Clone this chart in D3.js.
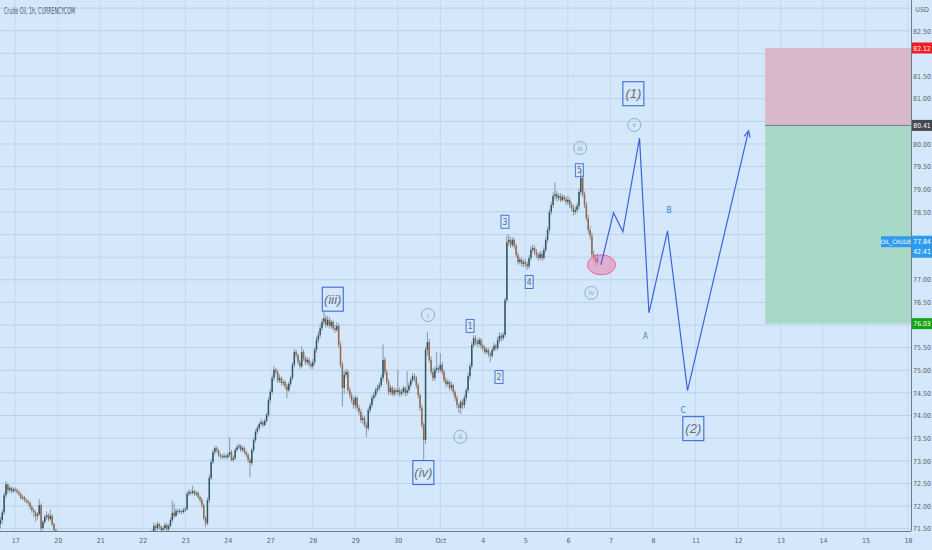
<!DOCTYPE html>
<html><head><meta charset="utf-8">
<script src="https://cdn.jsdelivr.net/npm/d3@7"></script>
<style>html,body{margin:0;padding:0;background:#d5e8fb;}svg{display:block}</style>
</head><body><svg id="c" width="932" height="550"></svg>
<script>
// ---------- DATA ----------
const title = "Crude Oil, 1h, CURRENCYCOM";
const dayLabels = ["17","20","21","22","23","24","27","28","29","30","Oct","4","5","6","7","8","11","12","13","14","15","18"];
const priceTicks = [71.5,72,72.5,73,73.5,74,74.5,75,75.5,76,76.5,77,77.5,78,78.5,79,79.5,80,80.5,81,81.5,82,82.5];
const gridPrices = [71.5,72,72.5,73,73.5,74,74.5,75,75.5,76,76.5,77,77.5,78,78.5,79,79.5,80,80.5,81,81.5,82,82.5,83];
const barsPerDay = 23;
const firstBarOffset = -8;   // first bar = 8 hourly bars before the "17" day line
const firstOpen = 71.60;
const closes = [
71.69,71.86,72.24,72.48,72.35,72.40,72.33,72.37,
72.35,72.31,72.27,72.18,72.20,72.13,72.11,72.07,71.98,71.91,71.87,71.78,71.82,72.02,71.51,71.65,71.76,71.80,71.71,71.78,71.60,71.47,71.34,
71.25,71.15,71.10,71.00,71.05,70.90,70.80,70.75,70.70,70.60,70.65,70.50,70.40,70.55,70.45,70.30,70.35,70.50,70.60,70.55,70.65,70.70,70.75,
70.80,70.90,70.85,71.00,71.10,71.05,71.15,71.20,71.10,71.00,70.90,71.05,71.15,71.25,71.30,71.20,71.10,71.00,70.95,71.05,71.15,71.20,71.25,
71.25,71.29,71.32,71.36,71.34,71.43,71.56,71.51,71.60,71.54,71.47,71.51,71.58,71.49,71.56,71.69,71.85,71.78,71.89,71.87,71.89,71.87,71.91,
71.93,72.27,72.31,72.29,72.33,72.27,72.29,72.20,72.13,72.02,71.73,71.62,72.13,72.62,72.97,73.19,73.28,73.24,73.13,73.11,73.08,73.11,73.08,
73.13,73.19,73.02,73.06,73.24,73.30,73.33,73.24,73.28,73.19,73.13,73.02,72.95,73.24,73.46,73.64,73.72,73.81,73.85,73.79,73.88,74.01,74.34,
74.52,74.83,75.01,74.96,74.78,74.83,74.72,74.74,74.65,74.56,74.70,74.83,75.12,75.40,75.34,75.18,75.09,75.40,75.27,75.18,75.23,75.14,75.09,
75.18,75.45,75.67,75.78,75.93,76.07,76.15,76.00,76.11,75.98,76.07,75.93,75.89,75.98,75.56,75.12,74.61,74.90,74.96,74.56,74.45,74.34,74.23,
74.39,74.17,74.08,73.90,73.94,73.79,73.72,74.12,74.23,74.39,74.45,74.56,74.61,74.67,74.83,75.23,74.96,74.74,74.52,74.61,74.48,74.56,74.52,
74.56,74.48,74.52,74.61,74.50,74.56,74.67,74.78,74.87,74.83,74.67,74.45,74.17,73.79,73.46,75.45,75.62,75.23,74.96,74.83,75.01,75.05,75.01,
75.12,74.96,74.78,74.70,74.74,74.61,74.67,74.52,74.39,74.23,74.17,74.30,74.23,74.39,74.56,74.87,75.09,75.56,75.71,75.62,75.58,75.67,75.54,
75.49,75.40,75.45,75.36,75.32,75.45,75.54,75.49,75.67,75.76,75.71,75.78,76.55,77.83,77.88,77.77,77.88,77.75,77.55,77.39,77.44,77.35,77.39,
77.35,77.30,77.48,77.66,77.70,77.61,77.55,77.48,77.57,77.48,77.66,77.88,78.10,78.50,78.65,78.85,78.89,78.81,78.85,78.76,78.83,78.78,78.72,
78.76,78.65,78.59,78.50,78.54,78.63,78.94,79.25,78.89,78.65,78.36,78.10,77.97,77.55,77.48,77.39,77.48];
const highs = [
71.76,71.92,72.30,72.55,72.50,72.45,72.43,72.41,
72.41,72.39,72.35,72.30,72.24,72.23,72.17,72.14,72.10,72.02,71.95,71.90,71.86,72.15,72.06,71.69,71.80,71.88,71.84,71.92,71.82,71.64,71.50,
71.38,71.28,71.20,71.15,71.12,71.08,70.95,70.85,70.80,70.75,70.72,70.68,70.55,70.60,70.60,70.50,70.42,70.56,70.66,70.65,70.70,70.76,70.80,
70.86,70.96,70.94,71.06,71.16,71.15,71.20,71.28,71.24,71.14,71.04,71.10,71.20,71.30,71.36,71.34,71.24,71.14,71.04,71.10,71.20,71.26,71.30,
71.30,71.34,71.37,71.41,71.40,71.48,71.63,71.60,71.66,71.63,71.57,71.56,71.63,71.62,71.61,71.75,72.12,72.06,71.94,71.94,71.94,71.92,71.96,
71.98,72.32,72.37,72.36,72.45,72.36,72.33,72.32,72.24,72.18,72.06,71.78,72.19,72.69,73.04,73.25,73.33,73.32,73.26,73.18,73.15,73.17,73.14,
73.18,73.52,73.24,73.12,73.28,73.35,73.38,73.36,73.33,73.32,73.23,73.17,73.06,73.29,73.51,73.69,73.78,73.86,73.93,73.89,73.93,74.06,74.41,
74.59,74.89,75.09,75.05,75.01,74.90,74.86,74.80,74.78,74.70,74.75,74.88,75.18,75.46,75.45,75.37,75.23,75.53,75.46,75.31,75.29,75.27,75.19,
75.25,75.51,75.74,75.86,76.01,76.14,76.30,76.22,76.19,76.17,76.12,76.10,76.00,76.06,76.03,75.63,75.19,74.99,75.03,75.01,74.63,74.51,74.40,
74.45,74.43,74.24,74.14,74.02,73.99,73.85,74.18,74.29,74.45,74.52,74.62,74.69,74.74,74.90,75.57,75.29,75.02,74.80,74.67,74.66,74.62,74.61,
75.01,74.62,74.58,74.66,74.64,74.98,74.74,74.84,74.94,74.92,74.88,74.72,74.50,74.23,73.85,75.52,75.85,75.69,75.30,75.04,75.08,75.40,75.10,
75.38,75.18,75.02,74.85,74.80,74.78,74.74,74.70,74.56,74.45,74.28,74.35,74.36,74.45,74.62,74.94,75.16,75.63,75.78,75.77,75.69,75.73,75.71,
75.59,75.55,75.51,75.49,75.41,75.51,75.61,75.58,75.74,75.84,75.82,75.84,76.60,77.97,78.00,77.94,77.94,77.92,77.80,77.60,77.50,77.48,77.44,
77.46,77.40,77.54,77.74,77.78,77.76,77.68,77.60,77.64,77.63,77.72,77.94,78.17,78.56,78.72,78.93,79.15,78.96,78.91,78.91,78.89,78.87,78.84,
78.85,78.81,78.72,78.66,78.62,78.70,79.01,79.46,79.31,78.95,78.72,78.44,78.19,78.04,77.64,77.56,77.58];
const lows = [
71.50,71.62,71.80,72.18,72.28,72.31,72.28,72.29,
72.30,72.27,72.22,72.14,72.14,72.09,72.06,72.02,71.92,71.85,71.76,71.66,71.70,71.78,71.44,71.48,71.60,71.70,71.66,71.68,71.55,71.40,71.26,
71.20,71.10,71.04,70.95,70.96,70.85,70.75,70.68,70.64,70.55,70.56,70.45,70.32,70.36,70.38,70.25,70.26,70.32,70.46,70.50,70.52,70.62,70.66,
70.70,70.76,70.80,70.82,70.96,71.00,71.02,71.10,71.06,70.95,70.85,70.86,71.00,71.10,71.20,71.15,71.05,70.94,70.90,70.92,71.02,71.12,71.16,
71.18,71.21,71.25,71.27,71.29,71.31,71.39,71.45,71.47,71.48,71.41,71.43,71.47,71.43,71.45,71.53,71.64,71.73,71.75,71.82,71.83,71.82,71.83,
71.86,71.90,72.22,72.24,72.25,72.22,72.22,72.16,72.08,71.96,71.68,71.53,71.58,72.07,72.57,72.92,73.13,73.18,73.08,73.04,73.04,73.05,73.03,
73.04,73.08,72.98,72.98,73.02,73.20,73.26,73.20,73.20,73.15,73.08,72.96,72.64,72.90,73.18,73.41,73.59,73.67,73.76,73.74,73.76,73.84,73.97,
74.27,74.46,74.76,74.90,74.72,74.72,74.66,74.66,74.58,74.38,74.51,74.64,74.78,75.06,75.28,75.12,75.03,75.05,75.21,75.12,75.12,75.08,75.03,
75.03,75.11,75.39,75.60,75.72,75.87,76.00,75.94,75.96,75.92,75.92,75.88,75.82,75.84,75.50,75.06,74.20,74.47,74.84,74.50,74.38,74.27,74.15,
74.15,74.11,74.01,73.84,73.81,73.74,73.52,73.66,74.05,74.17,74.33,74.40,74.50,74.55,74.62,74.76,74.90,74.68,74.45,74.46,74.43,74.42,74.45,
74.46,74.41,74.43,74.47,74.43,74.44,74.50,74.62,74.72,74.76,74.60,74.38,74.10,73.72,73.02,73.38,75.32,75.17,74.90,74.76,74.77,74.95,74.94,
74.96,74.90,74.72,74.62,74.64,74.55,74.55,74.45,74.32,74.16,74.06,74.03,74.14,74.16,74.32,74.50,74.80,75.03,75.50,75.55,75.52,75.53,75.47,
75.43,75.35,75.37,75.29,75.18,75.27,75.41,75.43,75.44,75.60,75.64,75.66,75.73,76.50,77.74,77.70,77.72,77.69,77.50,77.33,77.35,77.29,77.28,
77.27,77.22,77.24,77.42,77.60,77.54,77.48,77.42,77.44,77.42,77.44,77.60,77.82,78.03,78.43,78.58,78.78,78.73,78.75,78.72,78.72,78.74,78.65,
78.66,78.58,78.52,78.42,78.44,78.48,78.56,78.87,78.82,78.58,78.30,78.03,77.89,77.48,77.40,77.30,77.34];

// Trade box (short position tool)
const tradeStart = 17.64;
const stopPrice = 82.12, entryPrice = 80.41, targetPrice = 76.03;
const lastPrice = 77.84, countdown = "42:41", symbolTag = "OIL_CRUDE";

// Projected wave path [time(day index), price]
const projection = [[13.776,77.33],[14.073,78.48],[14.294,78.06],[14.685,80.13],[14.906,76.27],[15.344,78.08],[15.814,74.55],[17.249,80.29]];
const ellipse = {t:13.79, p:77.33};

// Elliott wave labels
const bigBoxLabels = [{t:7.47,p:76.57,txt:"(iii)"},{t:9.60,p:72.74,txt:"(iv)"},{t:14.54,p:81.11,txt:"(1)"},{t:15.95,p:73.71,txt:"(2)"}];
const smallBoxLabels = [{t:10.70,p:75.98,txt:"1"},{t:11.38,p:74.85,txt:"2"},{t:11.52,p:78.28,txt:"3"},{t:12.09,p:76.95,txt:"4"},{t:13.27,p:79.42,txt:"5"}];
const circleLabels = [{t:9.71,p:76.22,txt:"i"},{t:10.47,p:73.53,txt:"ii"},{t:13.29,p:79.91,txt:"iii"},{t:13.55,p:76.71,txt:"iv"},{t:14.56,p:80.42,txt:"v"}];
const letterLabels = [{t:14.82,p:75.76,txt:"A"},{t:15.38,p:78.54,txt:"B"},{t:15.71,p:74.12,txt:"C"}];

// ---------- CHART ----------
const svg = d3.select('#c');
const plotR = 911, plotB = 531;
const x = d3.scaleLinear().domain([0,21]).range([15.2,908]);
const y = d3.scaleLinear().domain([76,82.5]).range([325,30.81]);
const fontAxis = "'Liberation Sans Narrow','DejaVu Sans Condensed','Roboto',sans-serif";

svg.append('rect').attr('width',932).attr('height',550).attr('fill','#d5e8fb');

svg.append('defs').append('clipPath').attr('id','plot')
  .append('rect').attr('x',0).attr('y',0).attr('width',plotR).attr('height',plotB);

const plot = svg.append('g').attr('clip-path','url(#plot)');

// grid
plot.append('g').selectAll('line').data(d3.range(dayLabels.length)).join('line')
  .attr('x1',d=>x(d)).attr('x2',d=>x(d)).attr('y1',0).attr('y2',plotB)
  .attr('stroke','#c3d9ef').attr('stroke-width',1);
plot.append('g').selectAll('line').data(gridPrices).join('line')
  .attr('x1',0).attr('x2',plotR).attr('y1',d=>y(d)).attr('y2',d=>y(d))
  .attr('stroke','#b8d1ea').attr('stroke-width',1);

// trade boxes
const bx = x(tradeStart);
plot.append('rect').attr('x',bx).attr('y',y(stopPrice)).attr('width',plotR-bx).attr('height',y(entryPrice)-y(stopPrice))
  .attr('fill','#d8b9cb');
plot.append('rect').attr('x',bx).attr('y',y(entryPrice)).attr('width',plotR-bx).attr('height',y(targetPrice)-y(entryPrice))
  .attr('fill','#a8d9c7');
plot.append('line').attr('x1',bx).attr('x2',plotR).attr('y1',y(entryPrice)).attr('y2',y(entryPrice))
  .attr('stroke','#6f7a80').attr('stroke-width',1);

// candles
const bars = closes.map((c,i)=>({
  t:(i+firstBarOffset)/barsPerDay,
  o: i===0 ? firstOpen : closes[i-1], c, h:highs[i], l:lows[i]
}));
const upCol = '#31575d', dnCol = '#9a6548', wickCol = '#7a8fa0';
const cg = plot.append('g');
cg.selectAll('line').data(bars).join('line')
  .attr('x1',d=>x(d.t)).attr('x2',d=>x(d.t))
  .attr('y1',d=>y(Math.max(d.h,d.o,d.c))).attr('y2',d=>y(Math.min(d.l,d.o,d.c)))
  .attr('stroke',wickCol).attr('stroke-width',0.9);
cg.selectAll('rect').data(bars).join('rect')
  .attr('x',d=>x(d.t)-0.75).attr('width',1.5)
  .attr('y',d=>y(Math.max(d.o,d.c)))
  .attr('height',d=>Math.max(1,Math.abs(y(d.o)-y(d.c))))
  .attr('fill',d=>d.c>=d.o?upCol:dnCol);

// ellipse
plot.append('ellipse').attr('cx',x(ellipse.t)).attr('cy',y(ellipse.p)).attr('rx',14).attr('ry',10)
  .attr('fill','rgba(236,128,176,0.55)').attr('stroke','#e0699f').attr('stroke-width',1);

// projection path
const line = d3.line().x(d=>x(d[0])).y(d=>y(d[1]));
plot.append('path').attr('d',line(projection)).attr('fill','none')
  .attr('stroke','#3a64db').attr('stroke-width',1.2).attr('stroke-linejoin','miter');
{
  const a = projection[projection.length-1], b = projection[projection.length-2];
  const ax = x(a[0]), ay = y(a[1]), bxp = x(b[0]), byp = y(b[1]);
  const ang = Math.atan2(ay-byp, ax-bxp);
  const L = 7, spread = 0.45;
  const pts = [[ax-L*Math.cos(ang-spread), ay-L*Math.sin(ang-spread)],[ax,ay],[ax-L*Math.cos(ang+spread), ay-L*Math.sin(ang+spread)]];
  plot.append('path').attr('d',d3.line()(pts)).attr('fill','none').attr('stroke','#3a64db').attr('stroke-width',1.2);
}

// labels
const lab = plot.append('g');
bigBoxLabels.forEach(d=>{
  const cx = x(d.t), cy = y(d.p);
  lab.append('rect').attr('x',cx-10.5).attr('y',cy-12).attr('width',21).attr('height',24)
    .attr('fill','none').attr('stroke','#3d6bd6').attr('stroke-width',1.1);
  lab.append('text').attr('x',cx).attr('y',cy+4.5).attr('text-anchor','middle')
    .attr('font-family',"'Liberation Sans','DejaVu Sans',sans-serif").attr('font-style','italic')
    .attr('font-size',13).attr('fill','#66717e').text(d.txt);
});
smallBoxLabels.forEach(d=>{
  const cx = x(d.t), cy = y(d.p);
  lab.append('rect').attr('x',cx-4).attr('y',cy-6.5).attr('width',8).attr('height',13)
    .attr('fill','none').attr('stroke','#4a76d8').attr('stroke-width',1);
  lab.append('text').attr('x',cx).attr('y',cy+3).attr('text-anchor','middle')
    .attr('font-family',fontAxis).attr('font-size',8.5).attr('fill','#5f6d80').text(d.txt);
});
circleLabels.forEach(d=>{
  const cx = x(d.t), cy = y(d.p);
  lab.append('circle').attr('cx',cx).attr('cy',cy).attr('r',6.5)
    .attr('fill','none').attr('stroke','#8eaed2').attr('stroke-width',1);
  lab.append('text').attr('x',cx).attr('y',cy+2.5).attr('text-anchor','middle')
    .attr('font-family',fontAxis).attr('font-size',7).attr('fill','#7b9bc0').text(d.txt);
});
letterLabels.forEach(d=>{
  lab.append('text').attr('x',x(d.t)).attr('y',y(d.p)+3).attr('text-anchor','middle')
    .attr('font-family',fontAxis).attr('font-size',8.5).attr('fill','#3587c7').text(d.txt);
});

// axis lines
svg.append('line').attr('x1',0).attr('x2',plotR).attr('y1',plotB+0.5).attr('y2',plotB+0.5).attr('stroke','#6c7c8d');
svg.append('line').attr('x1',plotR+0.5).attr('x2',plotR+0.5).attr('y1',0).attr('y2',plotB).attr('stroke','#6c7c8d');

// price axis (labels hidden behind the price tags are left out)
const tagPrices = [stopPrice, entryPrice, targetPrice];
const shownTicks = priceTicks.filter(p => {
  const py = y(p);
  if (tagPrices.some(tp => Math.abs(y(tp)-py) < 9)) return false;
  if (py > y(lastPrice)-9 && py < y(lastPrice)+19) return false;
  return true;
});
const ya = d3.axisRight(y).tickValues(shownTicks).tickSize(0).tickPadding(0).tickFormat(d3.format('.2f'));
const yg = svg.append('g').attr('transform',`translate(${922},0)`).call(ya);
yg.select('.domain').remove();
yg.selectAll('text').attr('text-anchor','middle').attr('font-family',fontAxis).attr('font-size',7).attr('fill','#56606b');

svg.append('text').attr('x',922).attr('y',12).attr('text-anchor','middle')
  .attr('font-family',fontAxis).attr('font-size',7).attr('fill','#56606b').text('USD');

// time axis
const xa = d3.axisBottom(x).tickValues(d3.range(dayLabels.length)).tickSize(0).tickPadding(7).tickFormat(i=>dayLabels[i]);
const xg = svg.append('g').attr('transform',`translate(0,${plotB})`).call(xa);
xg.select('.domain').remove();
xg.selectAll('text').attr('font-family',fontAxis).attr('font-size',7).attr('fill','#56606b');

// title
svg.append('text').attr('x',4).attr('y',14).attr('font-family',fontAxis).attr('font-size',8)
  .attr('textLength',71).attr('lengthAdjust','spacingAndGlyphs')
  .attr('fill','#4e5a66').text(title);

// price tags
function tag(p, fill, txt, h){
  const cy = y(p);
  svg.append('rect').attr('x',plotR+1).attr('y',cy-h/2).attr('width',932-plotR-1).attr('height',h).attr('fill',fill);
  svg.append('text').attr('x',922).attr('y',cy+2.5).attr('text-anchor','middle')
    .attr('font-family',fontAxis).attr('font-size',6.8).attr('fill','#ffffff').text(txt);
}
tag(stopPrice,'#ee1c22',d3.format('.2f')(stopPrice),11);
tag(entryPrice,'#43484c',d3.format('.2f')(entryPrice),11);
tag(targetPrice,'#13a513',d3.format('.2f')(targetPrice),11);
{
  const cy = y(lastPrice);
  svg.append('rect').attr('x',plotR+1).attr('y',cy-6).attr('width',932-plotR-1).attr('height',22).attr('fill','#2f9bef');
  svg.append('text').attr('x',922).attr('y',cy+2.5).attr('text-anchor','middle')
    .attr('font-family',fontAxis).attr('font-size',6.8).attr('fill','#fff').text(d3.format('.2f')(lastPrice));
  svg.append('text').attr('x',922).attr('y',cy+12.5).attr('text-anchor','middle')
    .attr('font-family',fontAxis).attr('font-size',6.8).attr('fill','#fff').text(countdown);
  svg.append('rect').attr('x',881).attr('y',cy-5.5).attr('width',plotR-881).attr('height',11).attr('fill','#2f9bef');
  svg.append('text').attr('x',(881+plotR)/2).attr('y',cy+2.5).attr('text-anchor','middle')
    .attr('font-family',fontAxis).attr('font-size',6).attr('fill','#fff').text(symbolTag);
}
</script></body></html>
